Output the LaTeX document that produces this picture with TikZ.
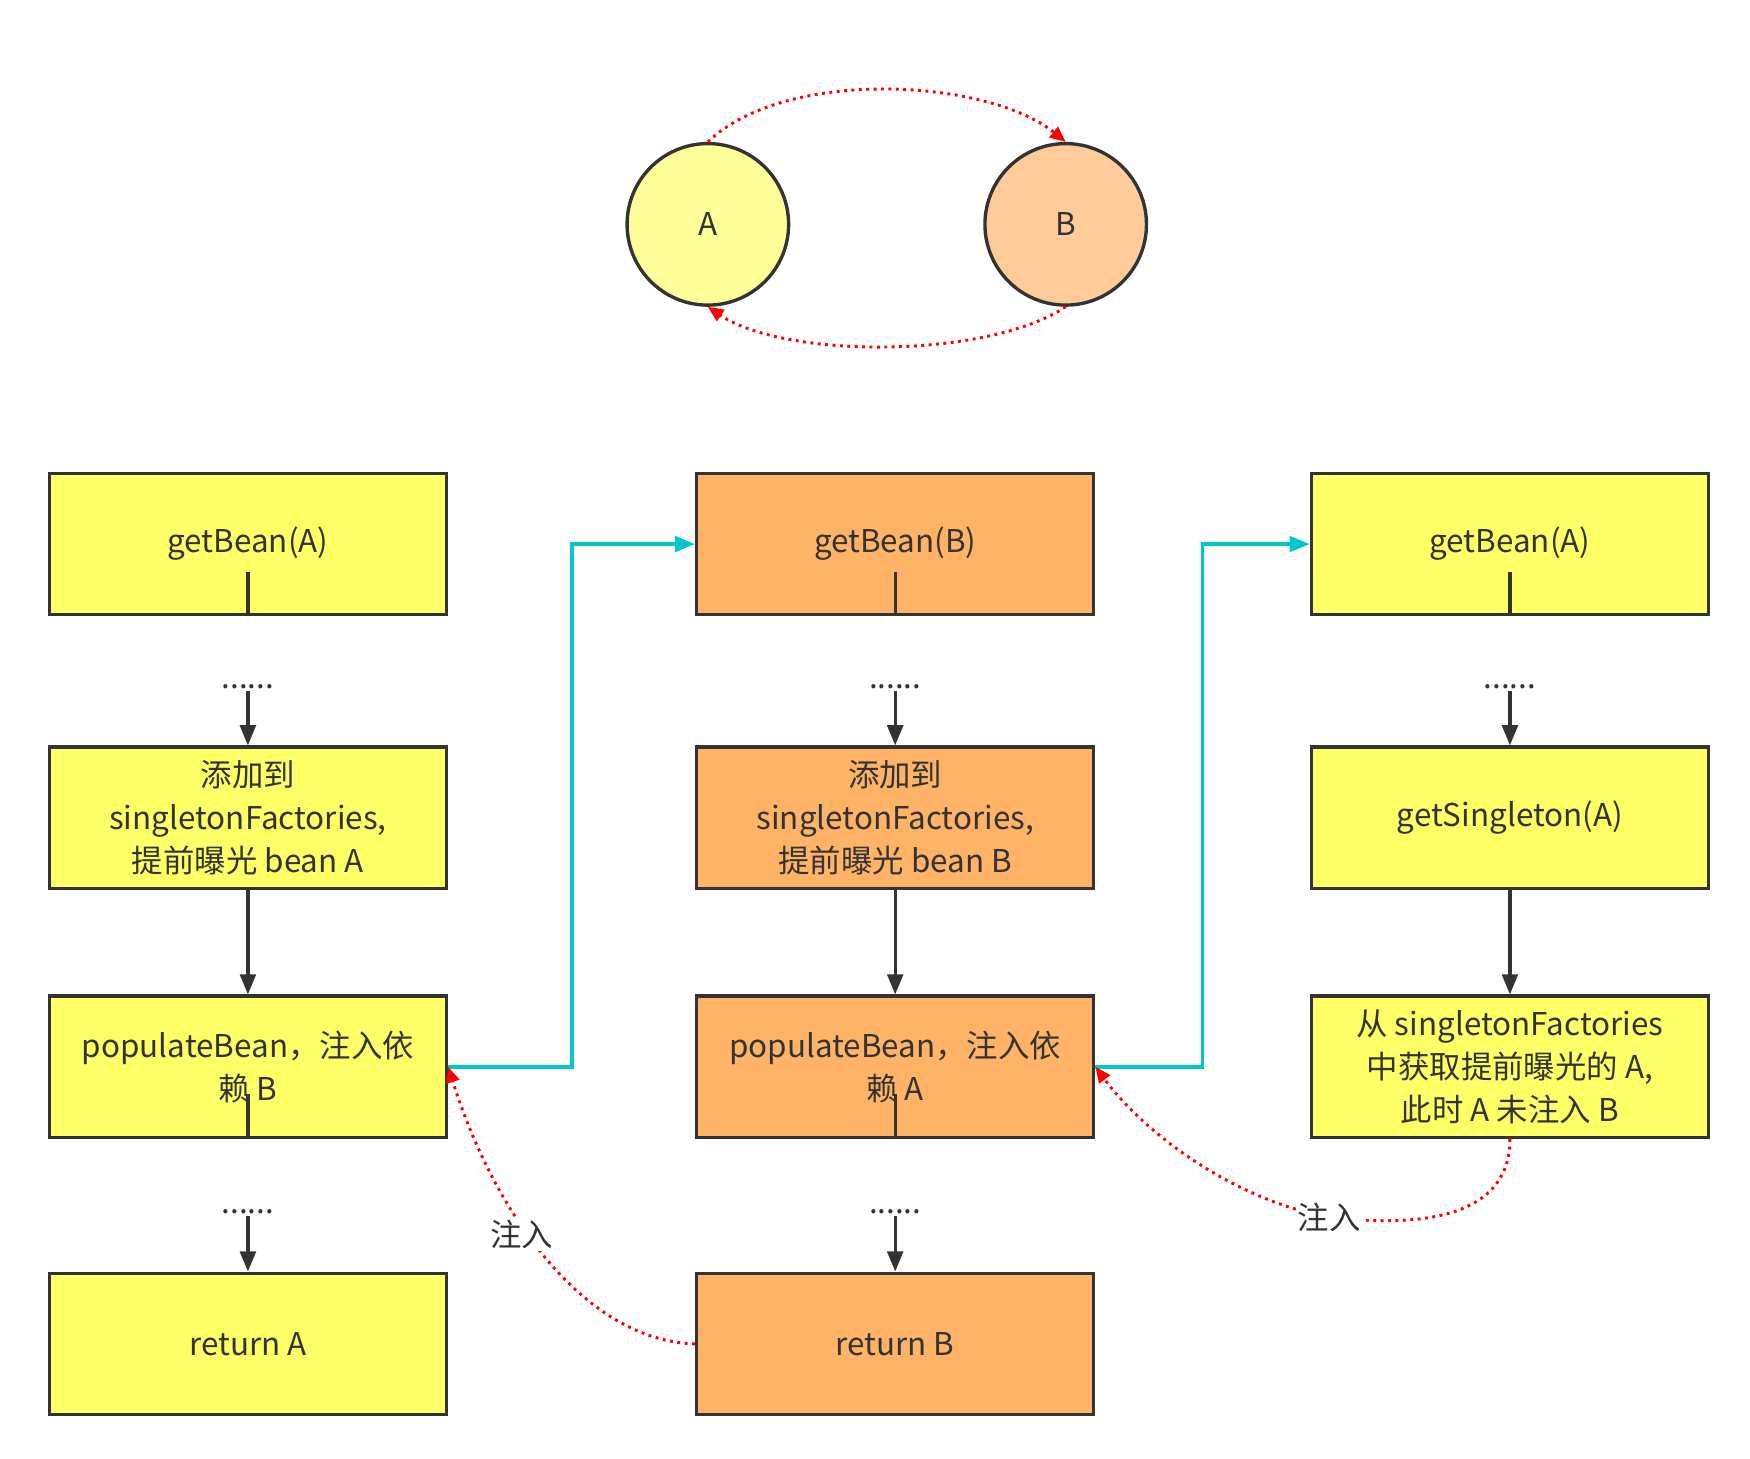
\documentclass[tikz,border=0pt]{standalone}
\usepackage{fontspec}
\setmainfont{Noto Sans CJK SC}
\usetikzlibrary{arrows.meta}
\definecolor{boxY}{HTML}{FFFF66}
\definecolor{boxO}{HTML}{FFB366}
\definecolor{cirY}{HTML}{FFFF99}
\definecolor{cirO}{HTML}{FFCC99}
\definecolor{lineC}{HTML}{333333}
\definecolor{cyanL}{HTML}{00C8CC}
\begin{document}
\begin{tikzpicture}[x=0.5pt,y=-0.5pt,
  box/.style={draw=lineC,line width=1.5pt,minimum width=177pt,minimum height=63pt,align=center,font=\fontsize{14}{19}\selectfont,text=lineC},
  circ/.style={circle,draw=lineC,line width=1.5pt,minimum size=72pt,font=\fontsize{14}{17}\selectfont,text=lineC},
  dots/.style={font=\fontsize{14}{17}\selectfont,text=lineC,inner sep=1pt},
  sarr/.style={draw=lineC,line width=1.5pt,-{Triangle[length=9pt,width=7pt]}},
  sl/.style={draw=lineC,line width=1.5pt},
  carr/.style={draw=cyanL,line width=1.5pt,-{Triangle[length=9pt,width=7pt]}},
  rarr/.style={draw=red,line width=1.3pt,dotted,-{Triangle[length=7pt,width=6pt]}},
  lab/.style={font=\fontsize{14}{17}\selectfont,text=lineC,fill=white,inner sep=1pt}]
\useasboundingbox (0,0) rectangle (1560,1300);
\node[circ,fill=cirY] (A) at (631,200) {A};
\node[circ,fill=cirO] (B) at (950,200) {B};
\draw[rarr] (A.north) .. controls (700,60) and (880,70) .. (B.north);
\draw[rarr] (B.south) .. controls (880,320) and (700,320) .. (A.south);

\node[box,fill=boxY] (a1) at (221,485) {getBean(A)};
\node[box,fill=boxY] (a2) at (221,729) {添加到\\singletonFactories,\\提前曝光 bean A};
\node[box,fill=boxY] (a3) at (221,951) {populateBean，注入依\\赖 B};
\node[box,fill=boxY] (a4) at (221,1198) {return A};
\node[box,fill=boxO] (b1) at (798,485) {getBean(B)};
\node[box,fill=boxO] (b2) at (798,729) {添加到\\singletonFactories,\\提前曝光 bean B};
\node[box,fill=boxO] (b3) at (798,951) {populateBean，注入依\\赖 A};
\node[box,fill=boxO] (b4) at (798,1198) {return B};
\node[box,fill=boxY] (c1) at (1346,485) {getBean(A)};
\node[box,fill=boxY] (c2) at (1346,729) {getSingleton(A)};
\node[box,fill=boxY] (c3) at (1346,951) {从 singletonFactories\\中获取提前曝光的 A,\\此时 A 未注入 B};

\node[dots] (da1) at (221,612) {......};
\node[dots] (db1) at (798,612) {......};
\node[dots] (dc1) at (1346,612) {......};
\node[dots] (da3) at (221,1080) {......};
\node[dots] (db3) at (798,1080) {......};
\foreach \t/\d/\n in {a1/da1/a2,b1/db1/b2,c1/dc1/c2,a3/da3/a4,b3/db3/b4}{
  \draw[sl] (\t.south) -- ++(0,-40);
  \draw[sarr] (\d.south) -- (\n.north);
}
\draw[sarr] (a2) -- (a3);
\draw[sarr] (b2) -- (b3);
\draw[sarr] (c2) -- (c3);

\coordinate (k1) at (510,951);
\coordinate (k2) at (510,485);
\coordinate (k3) at (1072,951);
\coordinate (k4) at (1072,485);
\draw[carr] (a3.east) -- (k1) -- (k2) -- (b1.west);
\draw[carr] (b3.east) -- (k3) -- (k4) -- (c1.west);

\draw[rarr] (b4.west) .. controls (520,1195) and (440,1080) .. (a3.east);
\node[lab] at (465,1100) {注入};
\draw[rarr] (c3.south) .. controls (1346,1100) and (1230,1090) .. (1185,1085) .. controls (1100,1070) and (1020,1010) .. (b3.east);
\node[lab] at (1185,1085) {注入};
\end{tikzpicture}
\end{document}
